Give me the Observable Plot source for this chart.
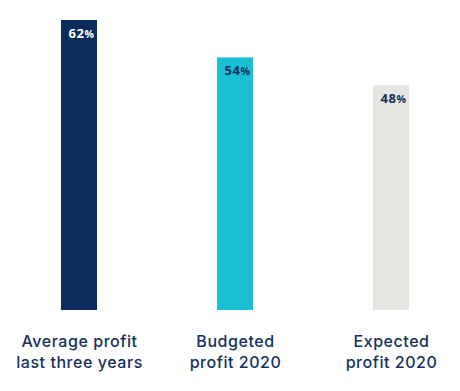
<!DOCTYPE html>
<html>
<head>
<meta charset="utf-8">
<script src="https://cdn.jsdelivr.net/npm/d3@7"></script>
<script src="https://cdn.jsdelivr.net/npm/@observablehq/plot@0.6"></script>
<style>
  html, body { margin: 0; padding: 0; background: #fff; }
  #chart svg { display: block; }
  #chart svg text { letter-spacing: 0.55px; }
</style>
</head>
<body>
<div id="chart"></div>
<script>
const categories = ["avg", "budget", "expected"];
const categoryLabels = ["Average profit\nlast three years", "Budgeted\nprofit 2020", "Expected\nprofit 2020"];
const values = [62, 54, 48];

const barColors = ["#0b2d5c", "#1bbfd4", "#e5e6e1"];
const labelColors = ["#ffffff", "#14305e", "#14305e"];
const navy = "#14305e";

const data = categories.map((c, i) => ({cat: c, label: categoryLabels[i], value: values[i], lc: labelColors[i]}));

const chart = Plot.plot({
  width: 460,
  height: 391,
  marginTop: 20,
  marginBottom: 81,
  marginLeft: 0,
  marginRight: 0,
  style: {fontFamily: "Inter, 'Open Sans', sans-serif", background: "#fff"},
  x: {domain: categories, range: [0, 469], paddingInner: 0.77, paddingOuter: 0.384, axis: null},
  y: {domain: [0, 62], axis: null},
  color: {domain: categories, range: barColors},
  marks: [
    Plot.barY(data, {x: "cat", y: "value", fill: "cat"}),
    Plot.text(data, {x: "cat", y: "value", text: d => String(d.value), fill: "lc", textAnchor: "end", dx: 5, dy: 13, fontSize: 13, fontWeight: "bold", fontFamily: "'Open Sans', sans-serif"}),
    Plot.text(data, {x: "cat", y: "value", text: d => "%", fill: "lc", textAnchor: "start", dx: 5, dy: 14, fontSize: 10.5, fontWeight: "bold", fontFamily: "'Open Sans', sans-serif"}),
    Plot.text(data, {x: "cat", y: 0, text: "label", fill: navy, lineAnchor: "top", lineHeight: 1.28, dy: 22, fontSize: 16, fontWeight: 500})
  ]
});
document.getElementById("chart").appendChild(chart);
</script>
</body>
</html>
